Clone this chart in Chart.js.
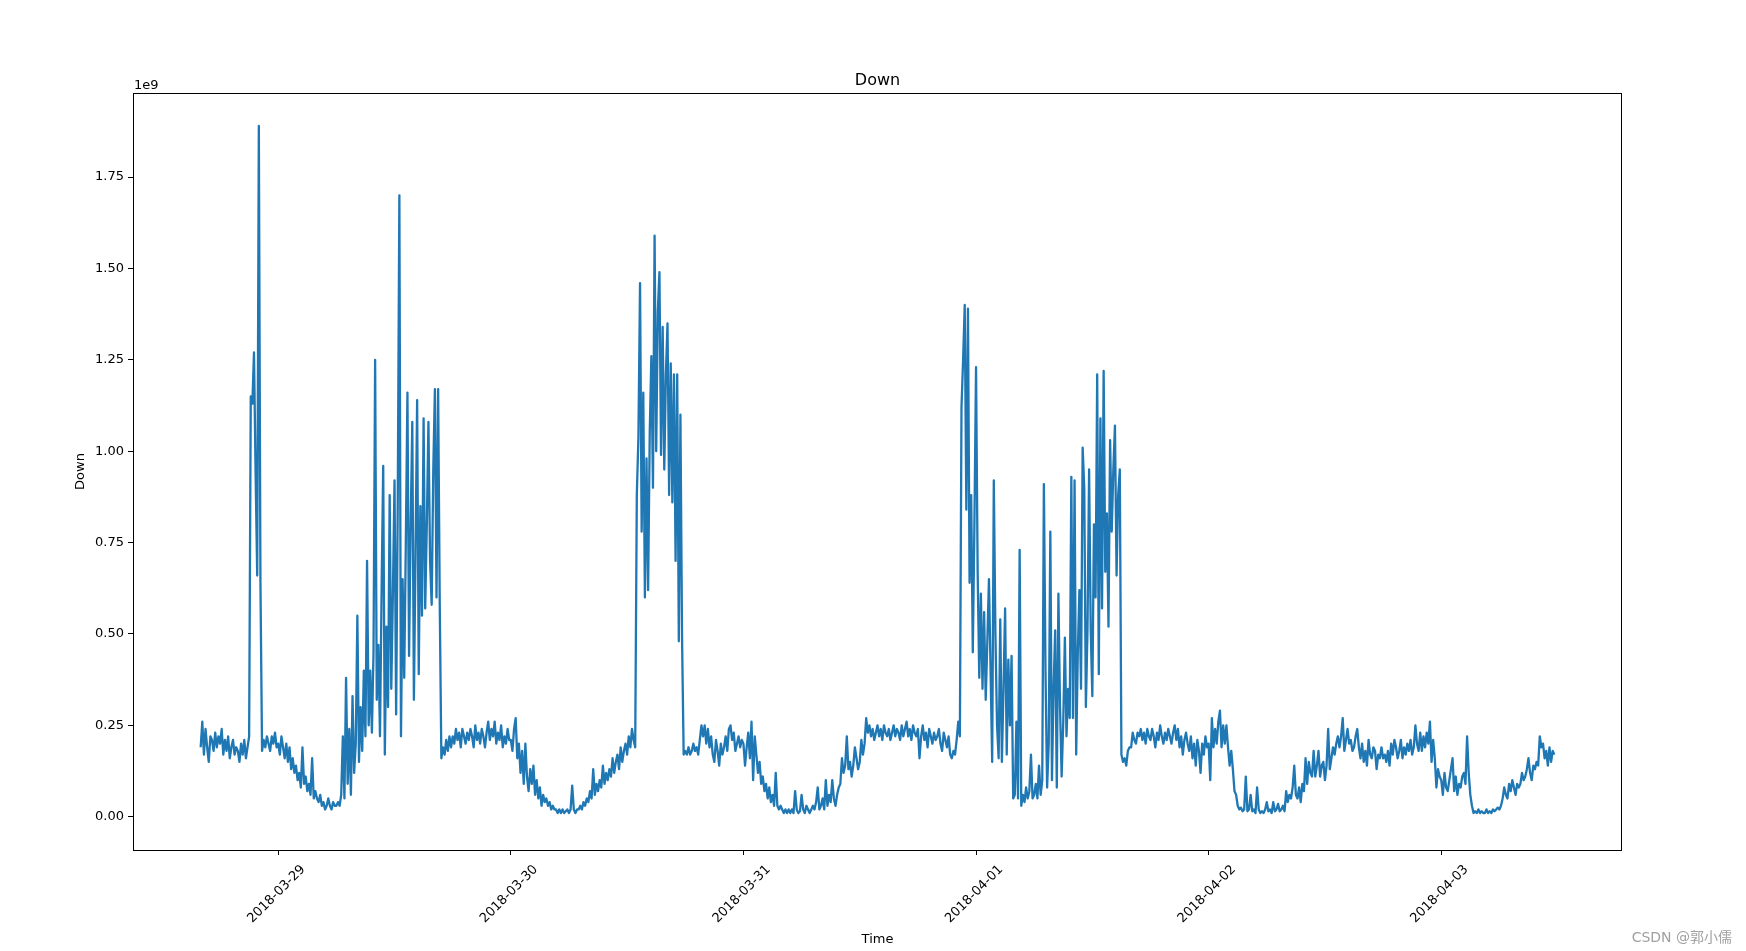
<!DOCTYPE html>
<html lang="zh">
<head>
  <meta charset="UTF-8">
  <title>Down</title>
  <script src="https://cdn.jsdelivr.net/npm/chart.js"></script>
  <style>
    html, body {
      margin: 0;
      padding: 0;
      background: #fff;
    }
    canvas {
      display: block;
    }
  </style>
</head>
<body>

  <canvas id="chart" width="1746" height="951"></canvas>

  <script>
    // one sample every 10 minutes, values in units of 1e9
    const startTime = Date.UTC(2018, 2, 28, 16, 0);
    const stepMinutes = 10;

    // 2018-03-28 16:00 - 23:50
    const down0328 = [
      0.19, 0.26, 0.17, 0.24, 0.19, 0.15, 0.22, 0.21, 0.18, 0.23, 0.19, 0.22,
      0.20, 0.24, 0.17, 0.21, 0.18, 0.22, 0.16, 0.19, 0.21, 0.17, 0.19, 0.18,
      0.15, 0.20, 0.17, 0.21, 0.16, 0.19, 0.22, 1.15, 1.13, 1.27, 0.94, 0.66,
      1.89, 0.64, 0.18, 0.21, 0.19, 0.22, 0.20, 0.18, 0.22, 0.20, 0.23, 0.19
    ];
    // 2018-03-29
    const down0329 = [
      0.20, 0.17, 0.22, 0.19, 0.16, 0.20, 0.15, 0.19, 0.13, 0.16, 0.12, 0.14,
      0.10, 0.12, 0.08, 0.19, 0.09, 0.11, 0.07, 0.09, 0.06, 0.16, 0.05, 0.07,
      0.05, 0.04, 0.06, 0.03, 0.04, 0.02, 0.03, 0.05, 0.03, 0.02, 0.04, 0.03,
      0.03, 0.04, 0.03, 0.06, 0.22, 0.05, 0.38, 0.09, 0.24, 0.06, 0.33, 0.12,
      0.20, 0.55, 0.15, 0.30, 0.18, 0.40, 0.22, 0.70, 0.25, 0.40, 0.23, 0.45,
      1.25, 0.32, 0.47, 0.22, 0.62, 0.96, 0.17, 0.52, 0.30, 0.88, 0.35, 0.61,
      0.92, 0.28, 0.86, 1.70, 0.22, 0.65, 0.38, 0.75, 1.16, 0.44, 0.80, 1.08,
      0.32, 0.72, 1.14, 0.39, 0.85, 0.55, 1.09, 0.57, 0.80, 1.08, 0.70, 0.58,
      0.95, 1.17, 0.60, 1.17, 0.58, 0.16, 0.19, 0.17, 0.21, 0.18, 0.22, 0.19,
      0.22, 0.20, 0.24, 0.21, 0.23, 0.19, 0.24, 0.22, 0.20, 0.23, 0.21, 0.24,
      0.22, 0.19, 0.25, 0.21, 0.23, 0.20, 0.24, 0.22, 0.19, 0.23, 0.26, 0.21,
      0.24, 0.22, 0.26, 0.20, 0.23, 0.21, 0.25, 0.19, 0.22, 0.20, 0.24, 0.21
    ];
    // 2018-03-30
    const down0330 = [
      0.21, 0.18, 0.24, 0.27, 0.16, 0.20, 0.12, 0.18, 0.09, 0.20, 0.11, 0.07,
      0.13, 0.09, 0.14, 0.06, 0.10, 0.05, 0.08, 0.03, 0.06, 0.04, 0.05, 0.03,
      0.04, 0.02, 0.03, 0.02, 0.02, 0.01, 0.02, 0.01, 0.02, 0.01, 0.015, 0.02,
      0.01, 0.02, 0.085, 0.02, 0.01, 0.02, 0.02, 0.03, 0.02, 0.04, 0.03, 0.05,
      0.04, 0.07, 0.05, 0.13, 0.06, 0.09, 0.07, 0.10, 0.08, 0.14, 0.09, 0.12,
      0.10, 0.13, 0.11, 0.16, 0.12, 0.15, 0.17, 0.13, 0.19, 0.15, 0.18, 0.20,
      0.17, 0.22, 0.19, 0.24, 0.21, 0.19, 0.88, 1.04, 1.46, 0.78, 1.16, 0.60,
      0.98, 0.62, 1.05, 1.26, 0.90, 1.59, 1.00, 1.38, 1.49, 0.99, 1.34, 0.95,
      1.21, 1.35, 0.88, 1.24, 0.86, 1.21, 0.70, 1.21, 0.48, 1.10, 0.49, 0.17,
      0.18, 0.17, 0.19, 0.17, 0.18, 0.20, 0.18, 0.19, 0.17, 0.21, 0.25, 0.22,
      0.25, 0.20, 0.24, 0.19, 0.22, 0.17, 0.15, 0.21, 0.18, 0.14, 0.20, 0.17,
      0.19, 0.22, 0.18, 0.24, 0.25, 0.21, 0.23, 0.18, 0.20, 0.22, 0.19, 0.21
    ];
    // 2018-03-31
    const down0331 = [
      0.20, 0.14, 0.19, 0.23, 0.16, 0.26, 0.10, 0.22, 0.17, 0.12, 0.15, 0.09,
      0.11, 0.07, 0.09, 0.05, 0.08, 0.04, 0.06, 0.03, 0.12, 0.03, 0.02, 0.03,
      0.02, 0.01, 0.02, 0.01, 0.02, 0.01, 0.02, 0.01, 0.07, 0.02, 0.01, 0.015,
      0.06, 0.02, 0.01, 0.03, 0.02, 0.01, 0.02, 0.03, 0.02, 0.04, 0.08, 0.02,
      0.03, 0.05, 0.02, 0.10, 0.03, 0.06, 0.04, 0.10, 0.05, 0.03, 0.06, 0.08,
      0.09, 0.16, 0.12, 0.14, 0.22, 0.13, 0.15, 0.11, 0.14, 0.19, 0.16, 0.13,
      0.15, 0.21, 0.17, 0.20, 0.27, 0.23, 0.25, 0.22, 0.24, 0.21, 0.23, 0.25,
      0.22, 0.24, 0.21, 0.25, 0.23, 0.22, 0.24, 0.21, 0.23, 0.25, 0.22, 0.24,
      0.23, 0.21, 0.25, 0.22, 0.24, 0.26, 0.22, 0.24, 0.21, 0.25, 0.23, 0.22,
      0.24, 0.16, 0.22, 0.25, 0.21, 0.23, 0.19, 0.24, 0.22, 0.20, 0.23, 0.21,
      0.22, 0.24, 0.20, 0.18, 0.23, 0.21, 0.19, 0.22, 0.17, 0.16, 0.18, 0.17,
      0.21, 0.26, 0.22, 1.12, 1.25, 1.40, 0.84, 1.39, 0.64, 0.88, 0.45, 0.80
    ];
    // 2018-04-01
    const down0401 = [
      1.23, 0.67, 0.38, 0.61, 0.35, 0.56, 0.32, 0.48, 0.65, 0.40, 0.15, 0.92,
      0.50, 0.25, 0.16, 0.54, 0.15, 0.35, 0.57, 0.17, 0.43, 0.25, 0.44, 0.05,
      0.06, 0.26, 0.05, 0.73, 0.03, 0.06, 0.04, 0.08, 0.05, 0.07, 0.17, 0.05,
      0.06, 0.09, 0.05, 0.14, 0.06, 0.10, 0.91, 0.40, 0.08, 0.20, 0.78, 0.10,
      0.35, 0.51, 0.08, 0.61, 0.30, 0.11, 0.26, 0.49, 0.22, 0.35, 0.27, 0.93,
      0.27, 0.92, 0.17, 0.45, 0.62, 0.35, 1.01, 0.90, 0.30, 0.51, 0.95, 0.51,
      0.33, 0.80, 0.60, 1.21, 0.39, 1.09, 0.57, 1.22, 0.67, 0.83, 0.52, 1.03,
      0.78, 0.95, 1.07, 0.66, 0.88, 0.95, 0.17, 0.15, 0.16, 0.14, 0.18, 0.19,
      0.19, 0.23, 0.21, 0.20, 0.23, 0.22, 0.24, 0.21, 0.23, 0.20, 0.24, 0.22,
      0.21, 0.24, 0.22, 0.19, 0.23, 0.21, 0.25, 0.22, 0.20, 0.23, 0.21, 0.24,
      0.22, 0.20, 0.23, 0.25, 0.21, 0.24, 0.19, 0.22, 0.17, 0.21, 0.23, 0.20,
      0.18, 0.22, 0.16, 0.20, 0.14, 0.21, 0.18, 0.12, 0.20, 0.17, 0.22, 0.19
    ];
    // 2018-04-02
    const down0402 = [
      0.20, 0.10, 0.27, 0.19, 0.24, 0.20, 0.26, 0.29, 0.19, 0.25, 0.20, 0.25,
      0.19, 0.14, 0.18, 0.13, 0.07, 0.06, 0.03, 0.02, 0.025, 0.015, 0.02, 0.11,
      0.015, 0.02, 0.06, 0.015, 0.02, 0.01, 0.08, 0.02, 0.01, 0.015, 0.01, 0.02,
      0.04, 0.015, 0.02, 0.01, 0.04, 0.015, 0.02, 0.035, 0.015, 0.02, 0.03, 0.015,
      0.07, 0.04, 0.06, 0.05, 0.08, 0.14, 0.06, 0.05, 0.08, 0.04, 0.09, 0.07,
      0.16, 0.09, 0.15, 0.12, 0.11, 0.18, 0.11, 0.14, 0.18, 0.11, 0.14, 0.15,
      0.10, 0.14, 0.24, 0.13, 0.16, 0.19, 0.17, 0.20, 0.22, 0.19, 0.22, 0.27,
      0.18, 0.21, 0.24, 0.20, 0.21, 0.18, 0.19, 0.22, 0.24, 0.19, 0.16, 0.20,
      0.15, 0.18, 0.14, 0.21, 0.17, 0.16, 0.19, 0.18, 0.13, 0.17, 0.16, 0.19,
      0.16, 0.17, 0.15, 0.18, 0.14, 0.20, 0.17, 0.21, 0.19, 0.16, 0.18, 0.21,
      0.16, 0.19, 0.17, 0.20, 0.18, 0.21, 0.17, 0.19, 0.25, 0.20, 0.18, 0.23,
      0.18, 0.22, 0.19, 0.23, 0.20, 0.26, 0.15, 0.21, 0.16, 0.08, 0.13, 0.11
    ];
    // 2018-04-03 00:00 - 11:40
    const down0403 = [
      0.10, 0.06, 0.12, 0.08, 0.07, 0.10, 0.13, 0.16, 0.07, 0.11, 0.06, 0.09,
      0.08, 0.11, 0.12, 0.09, 0.22, 0.12, 0.06, 0.03, 0.01, 0.015, 0.01, 0.02,
      0.01, 0.015, 0.01, 0.01, 0.02, 0.01, 0.015, 0.01, 0.02, 0.015, 0.02, 0.025,
      0.02, 0.03, 0.05, 0.08, 0.06, 0.05, 0.09, 0.07, 0.10, 0.08, 0.06, 0.09,
      0.08, 0.09, 0.12, 0.10, 0.11, 0.13, 0.16, 0.12, 0.10, 0.14, 0.13, 0.15,
      0.14, 0.22, 0.19, 0.20, 0.16, 0.18, 0.14, 0.19, 0.15, 0.18, 0.17
    ];

    const xTickLabels = ['2018-03-29', '2018-03-30', '2018-03-31', '2018-04-01', '2018-04-02', '2018-04-03'];
    const yTickValues = [0, 0.25, 0.5, 0.75, 1.0, 1.25, 1.5, 1.75];

    const downValues = [].concat(down0328, down0329, down0330, down0331, down0401, down0402, down0403);
    const stepMs = stepMinutes * 60 * 1000;
    const points = downValues.map((v, i) => ({ x: startTime + i * stepMs, y: v }));
    const xTickValues = xTickLabels.map(s => Date.parse(s + 'T00:00:00Z'));

    // matplotlib style 5% margins on x
    const span = (downValues.length - 1) * stepMs;
    const xMin = startTime - 0.05 * span;
    const xMax = startTime + span + 0.05 * span;

    const tickFont = { family: 'DejaVu Sans', size: 13 };

    // frame and texts drawn the way matplotlib places them
    const decorations = {
      id: 'decorations',
      afterDraw(chart) {
        const { ctx, chartArea: a } = chart;
        const cx = (a.left + a.right) / 2;
        const cy = (a.top + a.bottom) / 2;
        ctx.save();
        ctx.strokeStyle = '#000';
        ctx.lineWidth = 1;
        ctx.strokeRect(a.left + 0.5, a.top + 0.5, a.right - a.left - 1, a.bottom - a.top);

        ctx.fillStyle = '#000';
        ctx.textBaseline = 'alphabetic';
        ctx.font = '16px "DejaVu Sans"';
        ctx.textAlign = 'center';
        ctx.fillText('Down', cx, 85);

        ctx.font = '13px "DejaVu Sans"';
        ctx.textAlign = 'left';
        ctx.fillText('1e9', a.left + 1, 89);

        ctx.textAlign = 'center';
        ctx.fillText('Time', cx, 943);

        ctx.save();
        ctx.translate(84, cy);
        ctx.rotate(-Math.PI / 2);
        ctx.fillText('Down', 0, 0);
        ctx.restore();

        ctx.font = '14px "DejaVu Sans", "Noto Sans CJK SC"';
        ctx.fillStyle = '#a0a0a0';
        ctx.textAlign = 'right';
        ctx.fillText('CSDN @郭小儒', 1732, 942);
        ctx.restore();
      }
    };

    new Chart(document.getElementById('chart').getContext('2d'), {
      type: 'line',
      data: {
        datasets: [{
          label: 'Down',
          data: points,
          borderColor: '#1f77b4',
          borderWidth: 2.3,
          borderJoinStyle: 'round',
          pointRadius: 0,
          tension: 0,
          fill: false
        }]
      },
      options: {
        responsive: false,
        animation: false,
        devicePixelRatio: 1,
        layout: {
          padding: { top: 93, right: 124, bottom: 0, left: 0 }
        },
        plugins: {
          legend: { display: false },
          tooltip: { enabled: false },
          title: { display: false }
        },
        scales: {
          x: {
            type: 'linear',
            min: xMin,
            max: xMax,
            afterBuildTicks: scale => {
              scale.ticks = xTickValues.map(v => ({ value: v }));
            },
            afterFit: scale => {
              scale.height = 101;
            },
            border: { display: false },
            grid: {
              drawOnChartArea: false,
              drawTicks: true,
              tickLength: 5,
              color: '#000'
            },
            ticks: {
              autoSkip: false,
              minRotation: 45,
              maxRotation: 45,
              padding: 7,
              labelOffset: 25,
              color: '#000',
              font: tickFont,
              callback: (value, index) => xTickLabels[index]
            }
          },
          y: {
            min: -0.091,
            max: 1.98,
            afterBuildTicks: scale => {
              scale.ticks = yTickValues.map(v => ({ value: v }));
            },
            afterFit: scale => {
              scale.width = 133;
            },
            border: { display: false },
            grid: {
              drawOnChartArea: false,
              drawTicks: true,
              tickLength: 5,
              color: '#000'
            },
            ticks: {
              padding: 4,
              color: '#000',
              font: tickFont,
              callback: value => value.toFixed(2)
            }
          }
        }
      },
      plugins: [decorations]
    });
  </script>

</body>
</html>
